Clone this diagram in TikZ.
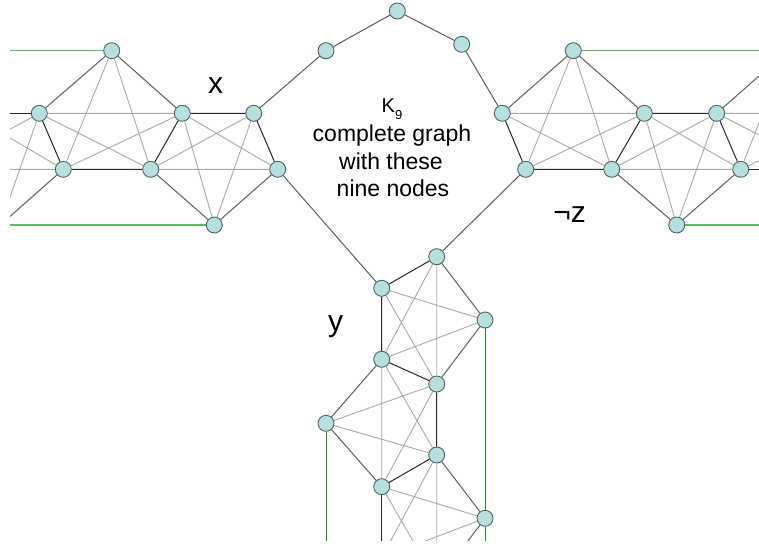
\documentclass[tikz,border=0pt]{standalone}
\usepackage{fontspec}
\setmainfont{Liberation Sans}
\definecolor{nodefill}{RGB}{182,224,224}
\definecolor{nodeedge}{RGB}{80,100,100}
\definecolor{edgedark}{RGB}{95,95,95}
\definecolor{edgeblack}{RGB}{40,40,40}
\definecolor{edgelight}{RGB}{170,170,170}
\definecolor{greenh}{RGB}{100,185,100}
\definecolor{greenv}{RGB}{30,140,30}
\tikzset{
 vtx/.style={circle, fill=nodefill, draw=nodeedge, line width=0.9pt, minimum size=16pt, inner sep=0pt},
 dk/.style={draw=edgedark, line width=1pt},
 bk/.style={draw=edgeblack, line width=1pt},
 lt/.style={draw=edgelight, line width=0.9pt},
 gh/.style={draw=greenh, line width=1.3pt},
 gv/.style={draw=greenv, line width=1pt},
 lbl/.style={font=\fontsize{30}{30}\selectfont, inner sep=0pt, anchor=base},
 txt/.style={font=\fontsize{23}{23}\selectfont, inner sep=0pt, anchor=base},
}
\begin{document}
\begin{tikzpicture}[x=1pt,y=-1pt]
\fill[white] (0,0) rectangle (759,543);
\useasboundingbox (0,0) rectangle (759,543);
\begin{scope}
\clip (10,0) rectangle (759,540);
% ---- left gadget (x)
\node[vtx] (LT) at (111.7,50.7) {};
\node[vtx] (LA) at (39.3,113.3) {};
\node[vtx] (LB) at (182.3,113.3) {};
\node[vtx] (LC) at (253.7,113.3) {};
\node[vtx] (LD) at (63.3,169.3) {};
\node[vtx] (LE) at (150.7,169.3) {};
\node[vtx] (LF) at (277.7,169.3) {};
\node[vtx] (LG) at (214.3,225) {};
\coordinate (LT0) at (-102.3,50.7);
\coordinate (LA0) at (-31.7,113.3);
\coordinate (LD0) at (-63.3,169.3);
\coordinate (LG0) at (0.3,225);
% ---- K9 path nodes
\node[vtx] (K1) at (326,50.7) {};
\node[vtx] (K2) at (397.3,11) {};
\node[vtx] (K3) at (461.7,44.3) {};
% ---- right gadget (not z)
\node[vtx] (RT) at (573.3,50.7) {};
\node[vtx] (RP) at (502.3,113.3) {};
\node[vtx] (RQ) at (644.3,113.3) {};
\node[vtx] (RR) at (716.7,113.3) {};
\node[vtx] (RS) at (525.7,169.3) {};
\node[vtx] (RU) at (611.7,169.3) {};
\node[vtx] (RV) at (740.7,169.3) {};
\node[vtx] (RW) at (676.7,225) {};
\coordinate (RT2) at (787.7,50.7);
\coordinate (RR2) at (858.7,113.3);
\coordinate (RV2) at (826.1,169.3);
\coordinate (RW2) at (891.1,225);
% ---- vertical gadget (y)
\node[vtx] (VY1) at (436.7,256.7) {};
\node[vtx] (VY2) at (381.7,288.3) {};
\node[vtx] (VN1) at (485,320) {};
\node[vtx] (VN2) at (381.7,359.3) {};
\node[vtx] (VN3) at (436.7,384) {};
\node[vtx] (VN4) at (326,423.3) {};
\node[vtx] (VN5) at (436.7,455) {};
\node[vtx] (VN6) at (381.7,486.7) {};
\node[vtx] (VN7) at (485,518.3) {};
\coordinate (VN8) at (381.7,557.6);
\coordinate (VN9) at (436.7,582.3);
\coordinate (VN10) at (326,621.6);
\coordinate (VN13) at (485,716.6);
% ================= edges
% left gadget K5 a
\draw[dk] (LT) -- (LA) (LT) -- (LB);
\draw[bk] (LA) -- (LD) (LD) -- (LE) (LB) -- (LE);
\draw[lt] (LT) -- (LD) (LT) -- (LE) (LA) -- (LB) (LA) -- (LE) (LB) -- (LD);
% left gadget K5 b
\draw[bk] (LB) -- (LC) (LC) -- (LF);
\draw[dk] (LF) -- (LG) (LG) -- (LE);
\draw[lt] (LB) -- (LF) (LB) -- (LG) (LC) -- (LE) (LC) -- (LG) (LE) -- (LF);
% left gadget K5 off the left edge
\draw[bk] (LA0) -- (LA);
\draw[dk] (LD) -- (LG0);
\draw[lt] (LA0) -- (LD) (LA) -- (LD0) (LA) -- (LG0) (LD0) -- (LD);
\draw[gh] (LT) -- (LT0) (LG) -- (LG0);
% right gadget K5 a
\draw[dk] (RT) -- (RP) (RT) -- (RQ);
\draw[bk] (RP) -- (RS) (RS) -- (RU) (RQ) -- (RU);
\draw[lt] (RT) -- (RS) (RT) -- (RU) (RP) -- (RQ) (RP) -- (RU) (RQ) -- (RS);
% right gadget K5 b
\draw[bk] (RQ) -- (RR) (RR) -- (RV);
\draw[dk] (RV) -- (RW) (RW) -- (RU);
\draw[lt] (RQ) -- (RV) (RQ) -- (RW) (RR) -- (RU) (RR) -- (RW) (RU) -- (RV);
% right gadget K5 off the right edge
\draw[dk] (RT2) -- (RR);
\draw[bk] (RV) -- (RV2);
\draw[lt] (RT2) -- (RV) (RR) -- (RR2) (RR) -- (RV2) (RR2) -- (RV);
\draw[gh] (RT) -- (RT2) (RW) -- (RW2);
% vertical gadget K5 a
\draw[dk] (VN1) -- (VY1) (VN1) -- (VN3);
\draw[bk] (VY1) -- (VY2) (VY2) -- (VN2) (VN3) -- (VN2);
\draw[lt] (VN1) -- (VY2) (VN1) -- (VN2) (VY1) -- (VN3) (VY1) -- (VN2) (VN3) -- (VY2);
% vertical gadget K5 b
\draw[bk] (VN3) -- (VN5) (VN5) -- (VN6);
\draw[dk] (VN6) -- (VN4) (VN4) -- (VN2);
\draw[lt] (VN3) -- (VN6) (VN3) -- (VN4) (VN5) -- (VN2) (VN5) -- (VN4) (VN2) -- (VN6);
% vertical gadget K5 c
\draw[dk] (VN7) -- (VN5) (VN7) -- (VN9);
\draw[bk] (VN6) -- (VN8);
\draw[lt] (VN7) -- (VN6) (VN7) -- (VN8) (VN5) -- (VN9) (VN5) -- (VN8) (VN9) -- (VN6);
\draw[gv] (VN1) -- (VN7) (VN7) -- (VN13) (VN4) -- (VN10);
% K9 cycle links
\draw[dk] (LC) -- (K1) (K1) -- (K2) (K2) -- (K3) (K3) -- (RP) (RS) -- (VY1) (VY2) -- (LF);
\end{scope}
% ================= text
\node[font=\fontsize{20}{20}\selectfont, inner sep=0pt, anchor=base] (k9) at (392,112) {K\raisebox{-7pt}{\fontsize{13}{13}\selectfont 9}};
\node[txt] (t1) at (392,141.5) {complete graph};
\node[txt] (t2) at (391,169) {with these};
\node[txt] (t3) at (393,196.5) {nine nodes};
\node[lbl] (lx) at (215.5,93) {x};
\node[lbl] (ly) at (335.5,331) {y};
\node[lbl] (lz) at (569.5,222) {¬z};
\end{tikzpicture}
\end{document}
